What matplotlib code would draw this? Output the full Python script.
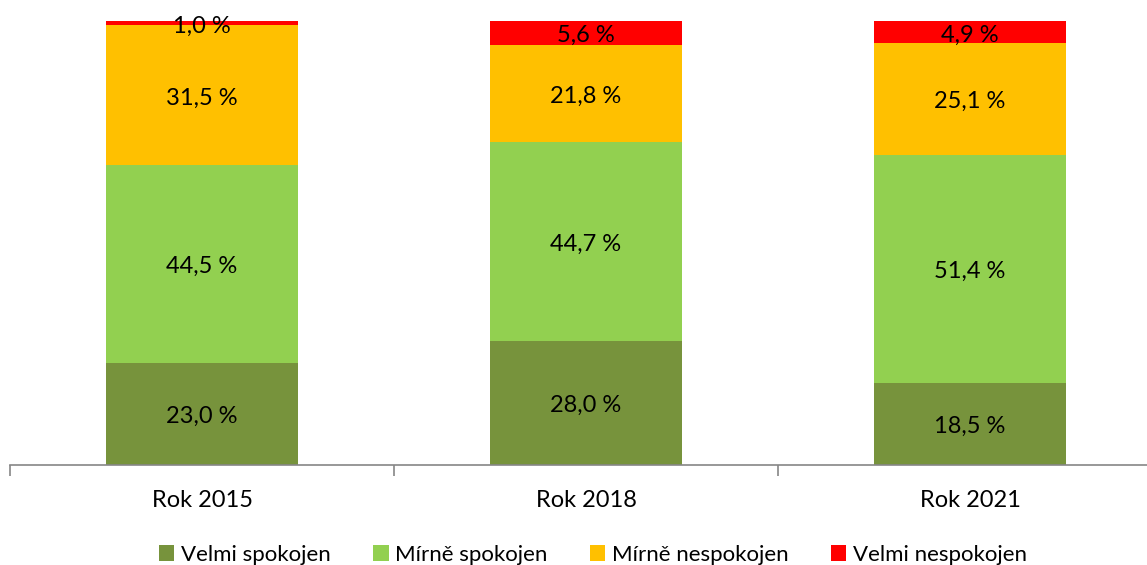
import numpy as np
import matplotlib.pyplot as plt

# Data
roky = ['Rok 2015', 'Rok 2018', 'Rok 2021']
velmi_spokojen = [23.0, 28.0, 18.5]
mirne_spokojen = [44.5, 44.7, 51.4]
mirne_nespokojen = [31.5, 21.8, 25.1]
velmi_nespokojen = [1.0, 5.6, 4.9]

serie = [
    ('Velmi spokojen', velmi_spokojen, '#77933C'),
    ('Mírně spokojen', mirne_spokojen, '#92D050'),
    ('Mírně nespokojen', mirne_nespokojen, '#FFC000'),
    ('Velmi nespokojen', velmi_nespokojen, '#FF0000'),
]

plt.rcParams['font.family'] = ['Lato', 'DejaVu Sans']

fig = plt.figure(figsize=(11.47, 5.65), dpi=100)
ax = fig.add_axes([10 / 1147, 100 / 565, 1152 / 1147, 444 / 565])

x = np.arange(len(roky))
bottom = np.zeros(len(roky))
for nazev, hodnoty, barva in serie:
    hodnoty = np.array(hodnoty)
    ax.bar(x, hodnoty, width=0.5, bottom=bottom, color=barva, label=nazev)
    for xi, b, h in zip(x, bottom, hodnoty):
        txt = f'{h:.1f} %'.replace('.', ',')
        ax.text(xi, b + h / 2 - 0.6, txt, ha='center', va='center', fontsize=17, color='black')
    bottom += hodnoty

ax.set_xlim(-0.5, 2.5)
ax.set_ylim(0, 100)
ax.set_yticks([])
for s in ['left', 'top', 'right']:
    ax.spines[s].set_visible(False)
ax.spines['bottom'].set_color('#868686')
ax.spines['bottom'].set_linewidth(1.2)

ax.set_xticks(x)
ax.set_xticklabels(roky, fontsize=17)
ax.tick_params(axis='x', which='major', length=0, pad=18)
ax.set_xticks([-0.5, 0.5, 1.5, 2.5], minor=True)
ax.tick_params(axis='x', which='minor', length=8, width=1.2, color='#868686', direction='out')

fig.legend(loc='lower center', bbox_to_anchor=(0.517, -0.035), ncol=4, frameon=False,
           fontsize=16, handlelength=0.7, handleheight=0.7, handletextpad=0.3,
           columnspacing=1.9)

fig.savefig('out.png', dpi=100)
